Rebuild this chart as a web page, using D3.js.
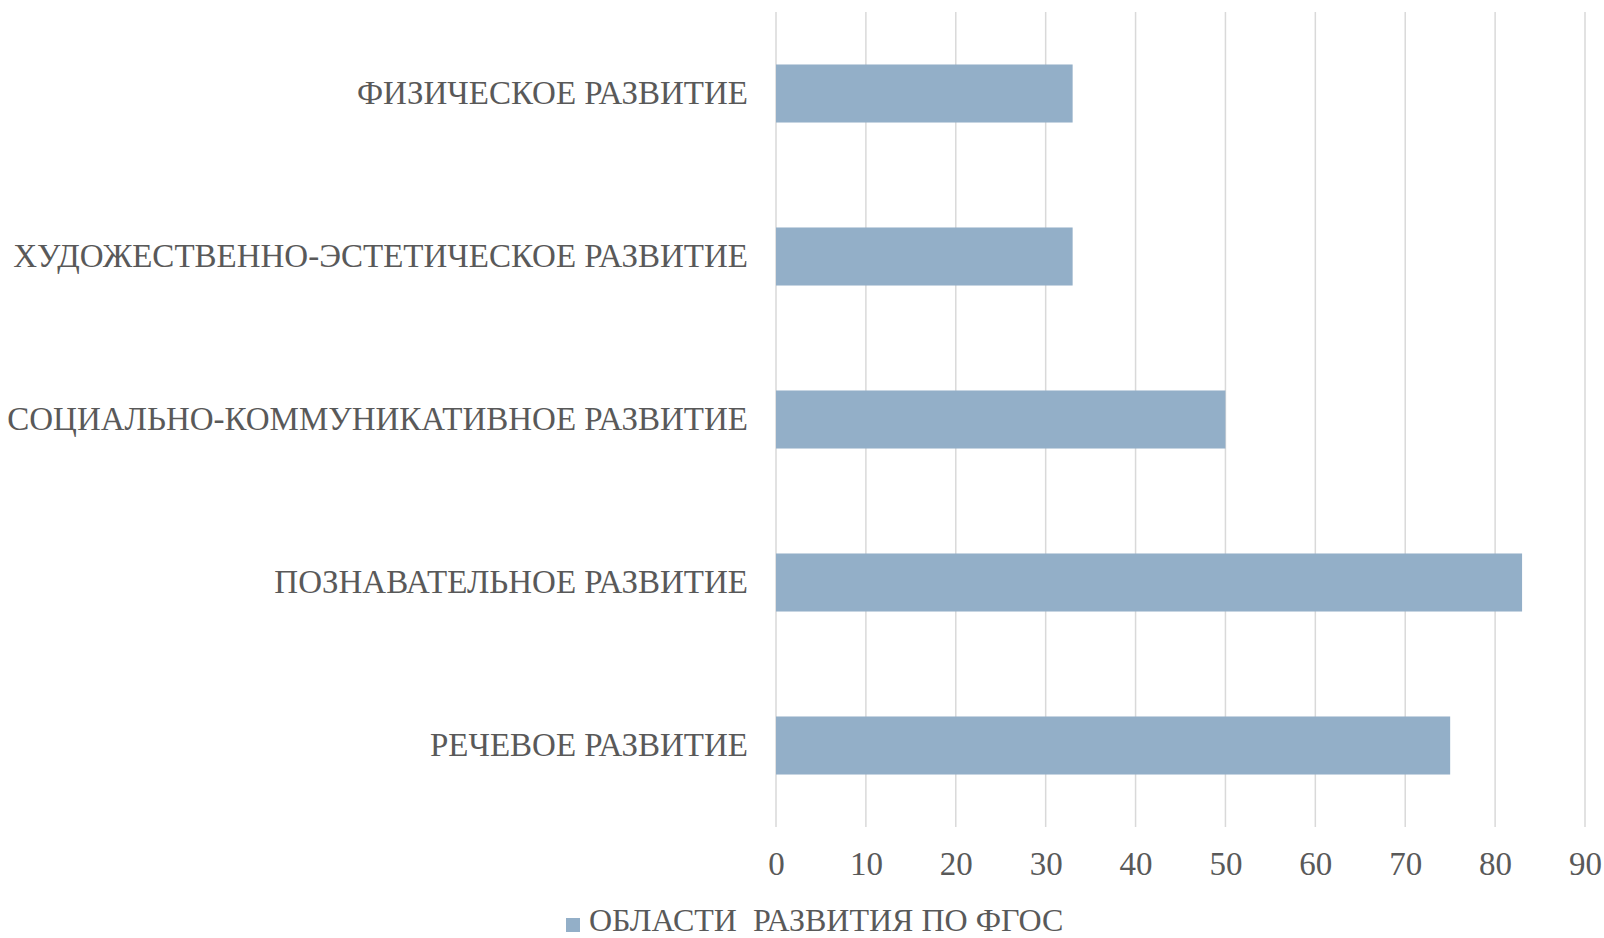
<!DOCTYPE html>
<html>
<head>
<meta charset="utf-8">
<script src="https://cdn.jsdelivr.net/npm/d3@7"></script>
<style>
  body { margin: 0; background: #fff; }
  svg { display: block; }
  text { font-family: "Liberation Serif", "DejaVu Serif", serif; fill: #595959; }
</style>
</head>
<body>
<svg id="chart"></svg>
<script>
// данные
const categories = [
  'ФИЗИЧЕСКОЕ РАЗВИТИЕ',
  'ХУДОЖЕСТВЕННО-ЭСТЕТИЧЕСКОЕ РАЗВИТИЕ',
  'СОЦИАЛЬНО-КОММУНИКАТИВНОЕ РАЗВИТИЕ',
  'ПОЗНАВАТЕЛЬНОЕ РАЗВИТИЕ',
  'РЕЧЕВОЕ РАЗВИТИЕ'
];
const values = [33, 33, 50, 83, 75];
const xTicks = [0, 10, 20, 30, 40, 50, 60, 70, 80, 90];
const seriesName = 'ОБЛАСТИ  РАЗВИТИЯ ПО ФГОС';

const width = 1604;
const height = 938;
const margin = { top: 12, right: 19, bottom: 111, left: 776 };
const barColor = '#93AFC8';
const gridColor = '#D9D9D9';
const fontSize = 33;

const svg = d3.select('#chart').attr('width', width).attr('height', height);

const x = d3.scaleLinear()
  .domain([0, 90])
  .range([margin.left, width - margin.right]);

const y = d3.scaleBand()
  .domain(categories)
  .range([margin.top, height - margin.bottom])
  .paddingInner(0.644)
  .paddingOuter(0.322);

// сетка
svg.append('g')
  .selectAll('line')
  .data(xTicks)
  .enter()
  .append('line')
  .attr('x1', d => x(d))
  .attr('x2', d => x(d))
  .attr('y1', margin.top)
  .attr('y2', height - margin.bottom)
  .attr('stroke', gridColor)
  .attr('stroke-width', 1.5);

// подписи оси X
const xAxis = svg.append('g')
  .attr('transform', `translate(0, ${height - margin.bottom})`)
  .call(d3.axisBottom(x).tickValues(xTicks).tickSize(0).tickPadding(25));
xAxis.select('.domain').remove();
xAxis.selectAll('text')
  .style('font-size', fontSize + 'px')
  .style('font-family', '"Liberation Serif", serif')
  .attr('fill', '#595959');

// подписи категорий
const yAxis = svg.append('g')
  .attr('transform', `translate(${margin.left}, 0)`)
  .call(d3.axisLeft(y).tickSize(0).tickPadding(28));
yAxis.select('.domain').remove();
yAxis.selectAll('text')
  .style('font-size', fontSize + 'px')
  .style('font-family', '"Liberation Serif", serif')
  .attr('fill', '#595959');

// столбцы
svg.append('g')
  .selectAll('rect')
  .data(categories)
  .enter()
  .append('rect')
  .attr('x', x(0))
  .attr('y', d => y(d))
  .attr('width', (d, i) => x(values[i]) - x(0))
  .attr('height', y.bandwidth())
  .attr('fill', barColor);

// легенда
const legend = svg.append('g').attr('transform', 'translate(566, 918)');
legend.append('rect')
  .attr('width', 14)
  .attr('height', 14)
  .attr('fill', barColor);
legend.append('text')
  .attr('x', 23)
  .attr('y', 13)
  .style('font-size', '32px')
  .style('white-space', 'pre')
  .text(seriesName);
</script>
</body>
</html>
